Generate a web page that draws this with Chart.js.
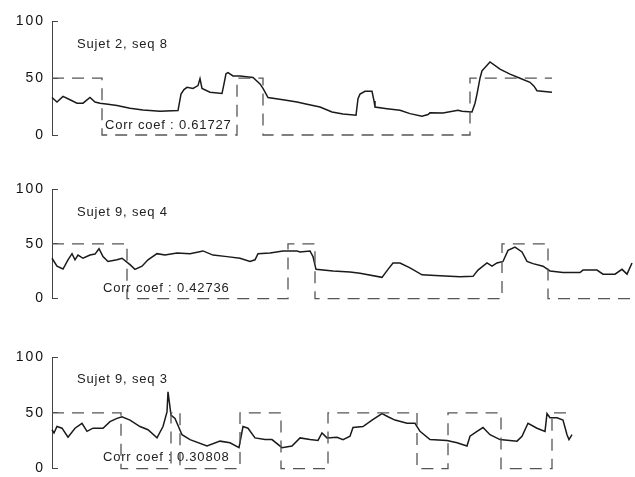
<!DOCTYPE html>
<html>
<head>
<meta charset="utf-8">
<script src="https://cdn.jsdelivr.net/npm/chart.js@4.4.1/dist/chart.umd.min.js"></script>
<style>
  html, body { margin: 0; padding: 0; background: #fff; overflow: hidden; }
  .panel { position: absolute; left: 0; }
</style>
</head>
<body>
<div class="panel" style="top:0px"><canvas id="c1" width="635" height="160"></canvas></div>
<div class="panel" style="top:160px"><canvas id="c2" width="635" height="160"></canvas></div>
<div class="panel" style="top:320px"><canvas id="c3" width="635" height="170"></canvas></div>
<script>
// tick labels of the y axes
const yTicks = [0, 50, 100];

// Sujet 2, seq 8
const t1 = [0, 5, 11, 18, 25, 31, 38, 43, 48, 56, 65, 78, 91, 108, 126, 129, 132, 135, 141, 146, 148, 150, 158, 170, 172, 174, 176, 181, 188, 201, 208, 211, 216, 231, 245, 255, 268, 280, 291, 304, 306, 308, 313, 320, 322, 323, 335, 348, 358, 370, 376, 378, 391, 406, 410, 420, 423, 425, 428, 430, 438, 448, 458, 468, 478, 482, 485, 500];
const v1 = [33, 29, 34, 31, 28, 28, 33, 29, 28, 27, 26, 23.5, 22, 21, 21.5, 36, 40, 42, 41, 43.5, 49.6, 41, 37.7, 36.5, 45, 54, 55, 52, 52, 50.7, 45, 41, 33, 31, 29, 27, 24.6, 20.3, 18.5, 17.4, 32, 36, 38.5, 38.5, 30, 24.6, 23.2, 21.7, 18.8, 16.5, 18, 19.5, 19.4, 21.7, 21, 20.3, 28, 36, 50, 56.5, 64.3, 58, 53.6, 50, 46.4, 43, 39, 37.7];
const sqT1 = [0, 50, 185, 211, 418, 500];
const sqV1 = [50, 0, 50, 0, 50, 50];

// Sujet 9, seq 4
const t2 = [0, 5, 11, 16, 20, 23, 26, 31, 38, 43, 47, 51, 56, 65, 70, 78, 83, 90, 96, 105, 113, 125, 138, 151, 161, 175, 188, 198, 203, 206, 218, 231, 245, 248, 258, 261, 264, 281, 298, 308, 330, 336, 341, 348, 358, 370, 388, 408, 421, 426, 435, 440, 445, 451, 456, 463, 470, 475, 481, 491, 498, 511, 528, 531, 545, 551, 563, 570, 575, 580];
const v2 = [36.8, 29.6, 27, 35.4, 41, 35.4, 39.7, 36.8, 39.7, 40.6, 45.5, 38.3, 33.9, 35.4, 36.8, 31, 26.7, 29.6, 35.4, 41, 39.7, 41.7, 41, 43.5, 39.7, 38.3, 36.8, 33.9, 35.4, 41, 41.7, 43.5, 43.5, 42.6, 43.5, 38.3, 26.7, 25.2, 24.3, 23.2, 19.4, 26.7, 32.5, 32.5, 28, 21.7, 20.9, 20, 20.3, 26, 32.5, 29.6, 32.5, 33.9, 44, 47, 42.6, 33.9, 31.9, 29.6, 25.2, 23.8, 23.8, 26, 26, 22.3, 22.3, 26.7, 22.3, 32.5];
const sqT2 = [0, 75, 236, 263, 450, 496, 580];
const sqV2 = [50, 0, 50, 0, 50, 0, 0];

// Sujet 9, seq 3
const t3 = [0, 2, 5, 10, 16, 23, 30, 35, 41, 51, 58, 65, 70, 78, 88, 96, 105, 111, 115, 116, 119, 123, 130, 138, 155, 168, 178, 187, 191, 196, 203, 213, 220, 230, 240, 248, 258, 266, 270, 275, 285, 291, 298, 301, 311, 320, 330, 336, 343, 355, 363, 368, 378, 395, 405, 415, 418, 425, 431, 438, 448, 465, 470, 476, 485, 493, 495, 498, 505, 511, 515, 517, 520];
const v3 = [34.8, 31.9, 37.7, 36.2, 28.1, 36.2, 40.6, 33.4, 36.2, 36.2, 42.1, 45, 46.5, 43.5, 37.7, 34.8, 27.5, 37.7, 50.8, 68.8, 47.9, 45, 30.4, 26, 20.3, 24.6, 23.1, 18.8, 37.7, 36.2, 27.5, 26, 26, 18.8, 20.3, 27.5, 26, 25.2, 31.9, 27.5, 28.1, 26, 29, 36.8, 37.7, 43.5, 49.3, 46.5, 43.5, 40.6, 40.6, 33.4, 26, 25.2, 23.1, 20.3, 29, 33.4, 36.8, 30.4, 26, 24.6, 29, 40.6, 36.2, 33.4, 49.3, 45.6, 45.6, 43.5, 30.4, 26, 30.4];
const sqT3 = [0, 69, 119, 128, 188, 229, 276, 365, 396, 449, 500, 514];
const sqV3 = [50, 0, 50, 0, 50, 0, 50, 0, 50, 0, 50, 50];

const titles = ['Sujet 2, seq 8', 'Sujet 9, seq 4', 'Sujet 9, seq 3'];
const corrs = ['Corr coef : 0.61727', 'Corr coef : 0.42736', 'Corr coef : 0.30808'];

const pts = (xs, ys) => xs.map((x, i) => ({ x: x, y: ys[i] }));

// texts inside each panel, placed in data units
const labelPlugin = {
  id: 'labels',
  afterDatasetsDraw(chart, args, opts) {
    const ctx = chart.ctx;
    const xs = chart.scales.x, ys = chart.scales.y;
    ctx.save();
    ctx.font = '13px "Liberation Sans", Arial, sans-serif';
    ctx.letterSpacing = '0.8px';
    ctx.fillStyle = '#222';
    ctx.textAlign = 'left';
    ctx.textBaseline = 'middle';
    opts.items.forEach(it => {
      ctx.fillText(it.text, xs.getPixelForValue(it.x), ys.getPixelForValue(it.y));
    });
    ctx.restore();
  }
};

const spacing = {
  id: 'spacing',
  beforeDraw(chart) { chart.ctx.letterSpacing = '2px'; }
};

function makePanel(id, t, v, sqT, sqV, padTop, padBottom, notes) {
  new Chart(document.getElementById(id), {
    type: 'line',
    data: {
      datasets: [
        {
          data: pts(sqT, sqV),
          stepped: true,
          borderColor: '#555',
          borderWidth: 1.3,
          borderDash: [12, 8],
          pointRadius: 0,
          fill: false,
          clip: false
        },
        {
          data: pts(t, v),
          borderColor: '#1a1a1a',
          borderWidth: 1.5,
          tension: 0,
          pointRadius: 0,
          fill: false,
          clip: false
        }
      ]
    },
    options: {
      responsive: false,
      animation: false,
      layout: { padding: { top: padTop, bottom: padBottom, left: 0, right: 3 } },
      plugins: {
        legend: { display: false },
        tooltip: { enabled: false },
        labels: { items: notes }
      },
      scales: {
        x: { type: 'linear', min: 0, max: 580, display: false },
        y: {
          min: 0,
          max: 100,
          afterBuildTicks: s => { s.ticks = yTicks.map(v => ({ value: v })); },
          afterFit: s => { s.width = 52; },
          ticks: {
            color: '#111',
            padding: 13,
            font: { family: '"Liberation Sans", Arial, sans-serif', size: 14 }
          },
          grid: { drawOnChartArea: false, tickLength: -6, color: '#444', lineWidth: 1 },
          border: { display: true, color: '#444', width: 1 }
        }
      }
    },
    plugins: [spacing, labelPlugin]
  });
}

makePanel('c1', t1, v1, sqT1, sqV1, 20, 25, [
  { text: titles[0], x: 25, y: 80 },
  { text: corrs[0], x: 53, y: 8 }
]);
makePanel('c2', t2, v2, sqT2, sqV2, 29, 16, [
  { text: titles[1], x: 25, y: 79 },
  { text: corrs[1], x: 51, y: 9 }
]);
makePanel('c3', t3, v3, sqT3, sqV3, 37, 18.7, [
  { text: titles[2], x: 25, y: 80 },
  { text: corrs[2], x: 51, y: 10 }
]);
</script>
</body>
</html>
